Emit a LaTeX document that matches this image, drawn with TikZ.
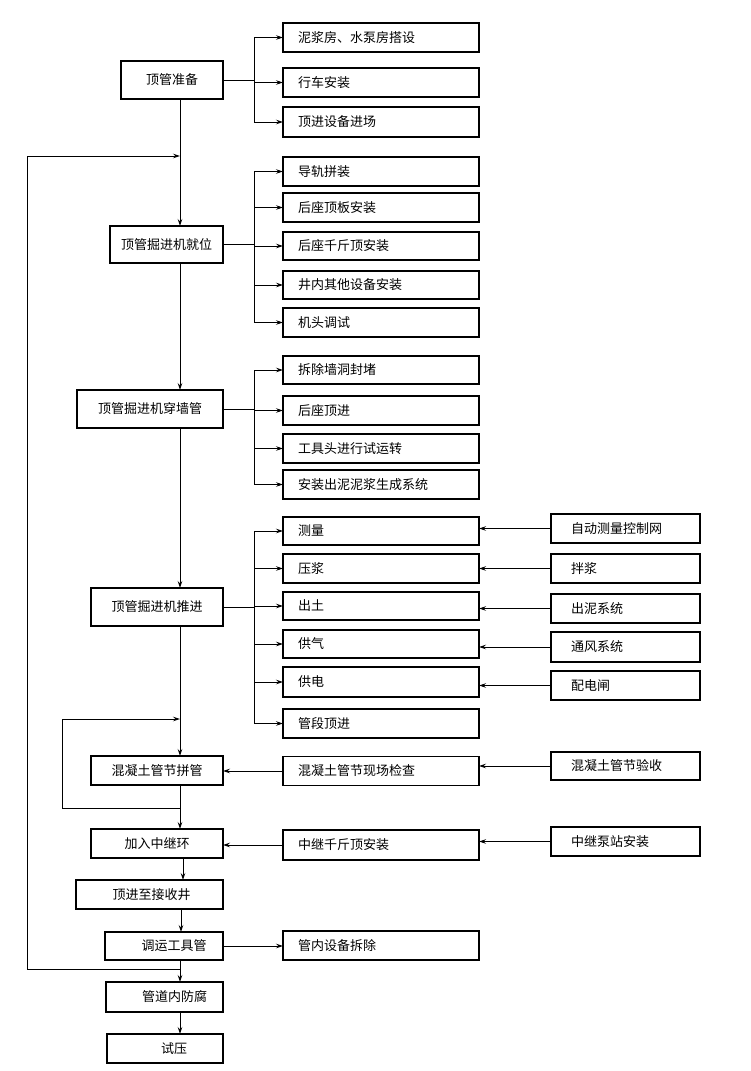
\documentclass[tikz,border=0pt]{standalone}
\usepackage{fontspec}
\setmainfont{Noto Sans CJK SC}
\usetikzlibrary{arrows.meta}
\begin{document}
\begin{tikzpicture}[x=1pt,y=-1pt,
  every node/.style={font=\fontsize{13}{15}\selectfont, inner sep=0pt, outer sep=0pt},
  lbox/.style={draw, line width=1.1pt, align=center},
  mbox/.style={draw, line width=1.1pt, minimum height=29pt, text width=166pt, inner xsep=15pt, align=left},
  rbox/.style={draw, line width=1.1pt, minimum height=29pt, text width=109pt, inner xsep=20pt, align=left},
  ln/.style={line width=0.8pt},
  arr/.style={line width=0.8pt, -{Stealth[length=7pt,width=4.5pt,inset=2.5pt]}}]
\useasboundingbox (0,0) rectangle (750,1071);
% left column
\node[lbox, minimum width=102pt, minimum height=38pt] (prep) at (172,80) {顶管准备};
\node[lbox, minimum width=113pt, minimum height=37pt] (pos) at (166.5,244.5) {顶管掘进机就位};
\node[lbox, minimum width=146pt, minimum height=38pt] (wall) at (150,409) {顶管掘进机穿墙管};
\node[lbox, minimum width=132pt, minimum height=38pt] (push) at (157,607) {顶管掘进机推进};
\node[lbox, minimum width=132pt, minimum height=29pt] (join) at (157,770.5) {混凝土管节拼管};
\node[lbox, minimum width=132pt, minimum height=29pt] (relay) at (157,843.5) {加入中继环};
\node[lbox, minimum width=147pt, minimum height=29pt] (recv) at (149.5,894.5) {\hspace*{4pt}顶进至接收井};
\node[lbox, minimum width=118pt, minimum height=28pt] (tool) at (164,946) {\hspace*{20pt}调运工具管};
\node[lbox, minimum width=117pt, minimum height=30pt] (anti) at (164.5,997) {\hspace*{20pt}管道内防腐};
\node[lbox, minimum width=116pt, minimum height=29pt] (test) at (165,1048.5) {\hspace*{18pt}试压};
% middle column
\node[mbox] (a1) at (381,37.5) {泥浆房、水泵房搭设};
\node[mbox] (a2) at (381,82.5) {行车安装};
\node[mbox, minimum height=30pt] (a3) at (381,122) {顶进设备进场};
\node[mbox] (b1) at (381,171.5) {导轨拼装};
\node[mbox] (b2) at (381,207.5) {后座顶板安装};
\node[mbox, minimum height=28pt] (b3) at (381,246) {后座千斤顶安装};
\node[mbox, minimum height=28pt] (b4) at (381,285) {井内其他设备安装};
\node[mbox] (b5) at (381,322.5) {机头调试};
\node[mbox, minimum height=28pt] (c1) at (381,370) {拆除墙洞封堵};
\node[mbox] (c2) at (381,410.5) {后座顶进};
\node[mbox] (c3) at (381,448.5) {工具头进行试运转};
\node[mbox] (c4) at (381,484.5) {安装出泥泥浆生成系统};
\node[mbox, minimum height=28pt] (d1) at (381,531) {测量};
\node[mbox] (d2) at (381,568.5) {压浆};
\node[mbox, minimum height=28pt] (d3) at (381,606) {出土};
\node[mbox, minimum height=28pt] (d4) at (381,644) {供气};
\node[mbox, minimum height=30pt] (d5) at (381,682) {供电};
\node[mbox] (d6) at (381,723.5) {管段顶进};
\node[mbox] (e1) at (381,771) {混凝土管节现场检查};
\node[mbox, minimum height=30pt] (f1) at (381,845) {中继千斤顶安装};
\node[mbox] (g1) at (381,945.5) {管内设备拆除};
% right column
\node[rbox] (r1) at (625.5,528.5) {自动测量控制网};
\node[rbox] (r2) at (625.5,568.5) {拌浆};
\node[rbox] (r3) at (625.5,608.5) {出泥系统};
\node[rbox, minimum height=30pt] (r4) at (625.5,647) {通风系统};
\node[rbox] (r5) at (625.5,685.5) {配电闸};
\node[rbox, minimum height=28pt] (r6) at (625.5,766) {混凝土管节验收};
\node[rbox] (r7) at (625.5,841.5) {中继泵站安装};
% reference coordinates
\coordinate (mx) at (180,0);
\coordinate (bx) at (254,0);
% main line
\draw[arr] (prep.south -| mx) -- (pos.north -| mx);
\draw[arr] (pos.south -| mx) -- (wall.north -| mx);
\draw[arr] (wall.south -| mx) -- (push.north -| mx);
\draw[arr] (push.south -| mx) -- (join.north -| mx);
\draw[arr] (join.south -| mx) -- (relay.north -| mx);
\coordinate (m2) at (183,0);
\draw[arr] (relay.south -| m2) -- (recv.north -| m2);
\coordinate (m3) at (181,0);
\draw[arr] (recv.south -| m3) -- (tool.north -| m3);
\draw[arr] (tool.south -| mx) -- (anti.north -| mx);
\draw[arr] (anti.south -| mx) -- (test.north -| mx);
% feedback loop to top
\coordinate (fb1) at (180,969);
\coordinate (fb2) at (27,969);
\coordinate (fb3) at (27,156);
\coordinate (fb4) at (180,156);
\draw[arr] (fb1) -- (fb2) -- (fb3) -- (fb4);
% loop around join
\coordinate (lp1) at (180,808);
\coordinate (lp2) at (62,808);
\coordinate (lp3) at (62,719);
\coordinate (lp4) at (180,719);
\draw[arr] (lp1) -- (lp2) -- (lp3) -- (lp4);
% branches
\draw[ln] (prep.east) -- (prep.east -| bx);
\draw[ln] (bx |- a1.west) -- (bx |- a3.west);
\foreach \n in {a1,a2,a3} \draw[arr] (bx |- \n.west) -- (\n.west);
\draw[ln] (pos.east) -- (pos.east -| bx);
\draw[ln] (bx |- b1.west) -- (bx |- b5.west);
\foreach \n in {b1,b2,b3,b4,b5} \draw[arr] (bx |- \n.west) -- (\n.west);
\draw[ln] (wall.east) -- (wall.east -| bx);
\draw[ln] (bx |- c1.west) -- (bx |- c4.west);
\foreach \n in {c1,c2,c3,c4} \draw[arr] (bx |- \n.west) -- (\n.west);
\draw[ln] (push.east) -- (push.east -| bx);
\draw[ln] (bx |- d1.west) -- (bx |- d6.west);
\foreach \n in {d1,d2,d3,d4,d5,d6} \draw[arr] (bx |- \n.west) -- (\n.west);
% right to middle
\draw[arr] (r1.west) -- (r1.west -| d1.east);
\draw[arr] (r2.west) -- (r2.west -| d2.east);
\draw[arr] (r3.west) -- (r3.west -| d3.east);
\draw[arr] (r4.west) -- (r4.west -| d4.east);
\draw[arr] (r5.west) -- (r5.west -| d5.east);
\draw[arr] (r6.west) -- (r6.west -| e1.east);
\draw[arr] (r7.west) -- (r7.west -| f1.east);
% middle to left
\draw[arr] (e1.west) -- (e1.west -| join.east);
\draw[arr] (f1.west) -- (f1.west -| relay.east);
\draw[arr] (tool.east) -- (tool.east -| g1.west);
\end{tikzpicture}
\end{document}
